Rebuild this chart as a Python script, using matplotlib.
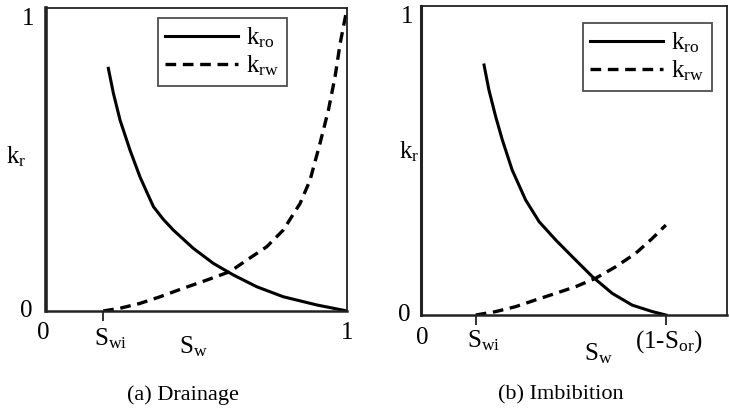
import matplotlib.pyplot as plt

plt.rcParams['font.family'] = ['Liberation Serif', 'DejaVu Serif']
plt.rcParams['mathtext.fontset'] = 'custom'
plt.rcParams['mathtext.rm'] = 'Liberation Serif'
plt.rcParams['mathtext.it'] = 'Liberation Serif'

# (a) drainage curves
swi_a = 0.19
kro_a_x = [0.207, 0.224, 0.246, 0.279, 0.312, 0.335, 0.357, 0.390, 0.423, 0.489, 0.556, 0.622, 0.700,
           0.788, 0.899, 1.0]
kro_a_y = [0.801, 0.718, 0.630, 0.531, 0.443, 0.392, 0.344, 0.302, 0.267, 0.207, 0.157, 0.119, 0.080,
           0.047, 0.020, 0.0]
krw_a_x = [0.190, 0.246, 0.312, 0.379, 0.456, 0.534, 0.611, 0.667, 0.733, 0.788, 0.844, 0.877,
           0.910, 0.938, 0.960, 0.977, 1.0]
krw_a_y = [0.0, 0.009, 0.025, 0.047, 0.075, 0.102, 0.130, 0.168, 0.212, 0.267, 0.355, 0.432,
           0.553, 0.663, 0.773, 0.883, 1.0]

# (b) imbibition curves
swi_b = 0.18
sor_b = 0.80
kro_b_x = [0.206, 0.222, 0.244, 0.266, 0.298, 0.342, 0.386, 0.440, 0.494, 0.560, 0.625, 0.690, 0.756, 0.800]
kro_b_y = [0.809, 0.728, 0.642, 0.566, 0.469, 0.372, 0.302, 0.243, 0.189, 0.124, 0.070, 0.032, 0.011, 0.0]
krw_b_x = [0.179, 0.244, 0.309, 0.375, 0.440, 0.506, 0.571, 0.636, 0.702, 0.756, 0.800]
krw_b_y = [0.0, 0.011, 0.027, 0.049, 0.070, 0.092, 0.119, 0.156, 0.200, 0.248, 0.291]

fig = plt.figure(figsize=(7.29, 4.19), dpi=100)
ax1 = fig.add_axes([0.0631, 0.2578, 0.413, 0.723])
ax2 = fig.add_axes([0.5775, 0.2482, 0.4198, 0.7375])

FS = 18
dash = (0, (3.2, 2.0))


def frame(ax, ticks, lw_left):
    ax.set_xlim(0, 1)
    ax.set_ylim(0, 1)
    for side in ['top', 'right']:
        ax.spines[side].set_linewidth(1.3)
    ax.spines['left'].set_linewidth(lw_left)
    ax.spines['bottom'].set_linewidth(1.8)
    for sp in ax.spines.values():
        sp.set_color('#222222')
    ax.set_yticks([])
    ax.set_xticks(ticks)
    ax.set_xticklabels([])
    ax.tick_params(axis='x', length=7, width=1.3, direction='out', color='#222222')


def label(ax, x, y, s, ha='center', va='center', size=FS):
    ax.text(x, y, s, fontsize=size, transform=ax.transAxes, ha=ha, va=va)


# drainage panel
ax1.plot(kro_a_x, kro_a_y, color='black', lw=2.2, label=r'$\mathrm{k_{ro}}$')
ax1.plot(krw_a_x, krw_a_y, color='black', lw=2.4, ls=dash, label=r'$\mathrm{k_{rw}}$')
frame(ax1, [swi_a], 2.6)
label(ax1, -0.066, 0.0, '0')
label(ax1, -0.06, 0.964, '1')
label(ax1, -0.01, -0.073, '0')
label(ax1, 1.0, -0.073, '1')
label(ax1, 0.216, -0.112, r'$\mathrm{S_{wi}}$', va='baseline')
label(ax1, 0.49, -0.139, r'$\mathrm{S_w}$', va='baseline')
label(ax1, -0.1, 0.488, r'$\mathrm{k_r}$', va='baseline')

# imbibition panel
ax2.plot(kro_b_x, kro_b_y, color='black', lw=2.2, label=r'$\mathrm{k_{ro}}$')
ax2.plot(krw_b_x, krw_b_y, color='black', lw=2.4, ls=dash, label=r'$\mathrm{k_{rw}}$')
frame(ax2, [swi_b, sor_b], 2.2)
label(ax2, -0.056, 0.0, '0')
label(ax2, -0.046, 0.964, '1')
label(ax2, 0.003, -0.074, '0')
label(ax2, 0.206, -0.104, r'$\mathrm{S_{wi}}$', va='baseline')
label(ax2, 0.578, -0.146, r'$\mathrm{S_w}$', va='baseline')
label(ax2, 0.81, -0.107, r'$\mathrm{(1\text{-}S_{or})}$', va='baseline')
label(ax2, -0.04, 0.508, r'$\mathrm{k_r}$', va='baseline')

legend_anchor = {ax1: (0.80, 0.967), ax2: (0.951, 0.945)}
for ax in (ax1, ax2):
    leg = ax.legend(loc='upper right', bbox_to_anchor=legend_anchor[ax], fontsize=FS,
                    frameon=True, fancybox=False, edgecolor='#222222', handlelength=2.9,
                    borderpad=0.3, labelspacing=0.15, handletextpad=0.35, borderaxespad=0.0)
    leg.get_frame().set_linewidth(1.3)

fig.text(0.251, 0.057, '(a) Drainage', fontsize=16, ha='center', va='center')
fig.text(0.7695, 0.057, '(b) Imbibition', fontsize=16, ha='center', va='center')

fig.savefig('out.png', dpi=100)
